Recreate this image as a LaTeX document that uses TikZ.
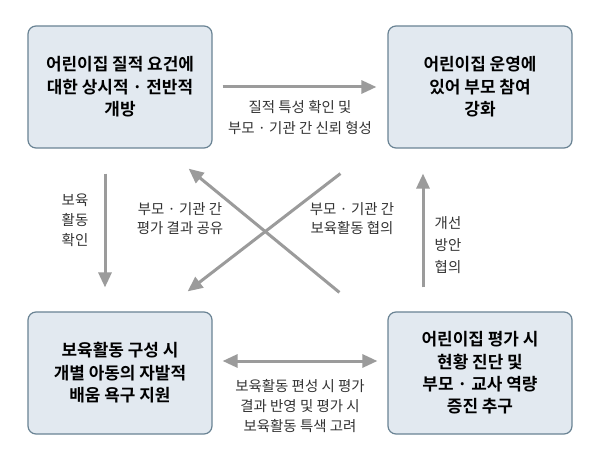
\documentclass[tikz,border=0pt]{standalone}
\usepackage{fontspec}
\setmainfont{Noto Sans CJK KR}[BoldFont={Noto Sans CJK KR Bold}]
\usetikzlibrary{arrows.meta,calc}
\definecolor{boxfill}{HTML}{E2E9F0}
\definecolor{boxline}{HTML}{6A8394}
\definecolor{arrowgray}{HTML}{9B9B9B}
\definecolor{labeltext}{HTML}{333333}
\begin{document}
\begin{tikzpicture}[x=1bp,y=-1bp,
  box/.style={draw=boxline, fill=boxfill, line width=1.2bp, rounded corners=8bp,
    minimum width=184bp, minimum height=122bp, inner sep=0pt, align=center,
    font=\fontsize{17}{22.5}\selectfont\bfseries, text=black},
  conn/.style={draw=arrowgray, line width=3bp, -{Triangle[length=15bp,width=13bp]}},
  dconn/.style={draw=arrowgray, line width=3bp, {Triangle[length=15bp,width=13bp]}-{Triangle[length=15bp,width=13bp]}},
  lbl/.style={align=center, text=labeltext, inner sep=0pt}]
\useasboundingbox (0,0) rectangle (593,468);
\fill[white] (0,0) rectangle (593,468);
\node[box] (tl) at (120,87) {어린이집 질적 요건에\\대한 상시적 · 전반적\\개방};
\node[box] (tr) at (480,87) {어린이집 운영에\\있어 부모 참여\\강화};
\node[box] (bl) at (120,373) {보육활동 구성 시\\개별 아동의 자발적\\배움 욕구 지원};
\node[box] (br) at (480,373) {어린이집 평가 시\\현황 진단 및\\부모 · 교사 역량\\증진 추구};
% horizontal connectors
\draw[conn] ([xshift=10bp]tl.east) -- ([xshift=-11bp]tr.west);
\draw[dconn] ([xshift=10bp,yshift=12bp]bl.east) -- ([xshift=-10bp,yshift=12bp]br.west);
% vertical connectors
\draw[conn] ($(tl.south)+(-15,25)$) -- ($(bl.north)+(-15,-24)$);
\draw[conn] ($(br.north)+(-57,-24)$) -- ($(tr.south)+(-57,25)$);
% diagonals
\draw[conn] ($(tr.south west)+(-47,25)$) -- ($(bl.north east)+(-25,-20)$);
\draw[conn] ($(br.north west)+(-48,-19)$) -- ($(tl.south east)+(-24,20)$);
% labels
\node[lbl, font=\fontsize{14.5}{21}\selectfont] (l1) at (300,118) {질적 특성 확인 및\\부모 · 기관 간 신뢰 형성};
\node[lbl, font=\fontsize{14.5}{20.5}\selectfont] (l2) at (300,406) {보육활동 편성 시 평가\\결과 반영 및 평가 시\\보육활동 특색 고려};
\node[lbl, font=\fontsize{14.5}{20}\selectfont] (l3) at (75,220) {보육\\활동\\확인};
\node[lbl, font=\fontsize{14.5}{22}\selectfont] (l4) at (448,245) {개선\\방안\\협의};
\node[lbl, font=\fontsize{14.5}{19}\selectfont] (l5) at (180,219) {부모 · 기관 간\\평가 결과 공유};
\node[lbl, font=\fontsize{14.5}{19}\selectfont] (l6) at (352,219) {부모 · 기관 간\\보육활동 협의};
\end{tikzpicture}
\end{document}
